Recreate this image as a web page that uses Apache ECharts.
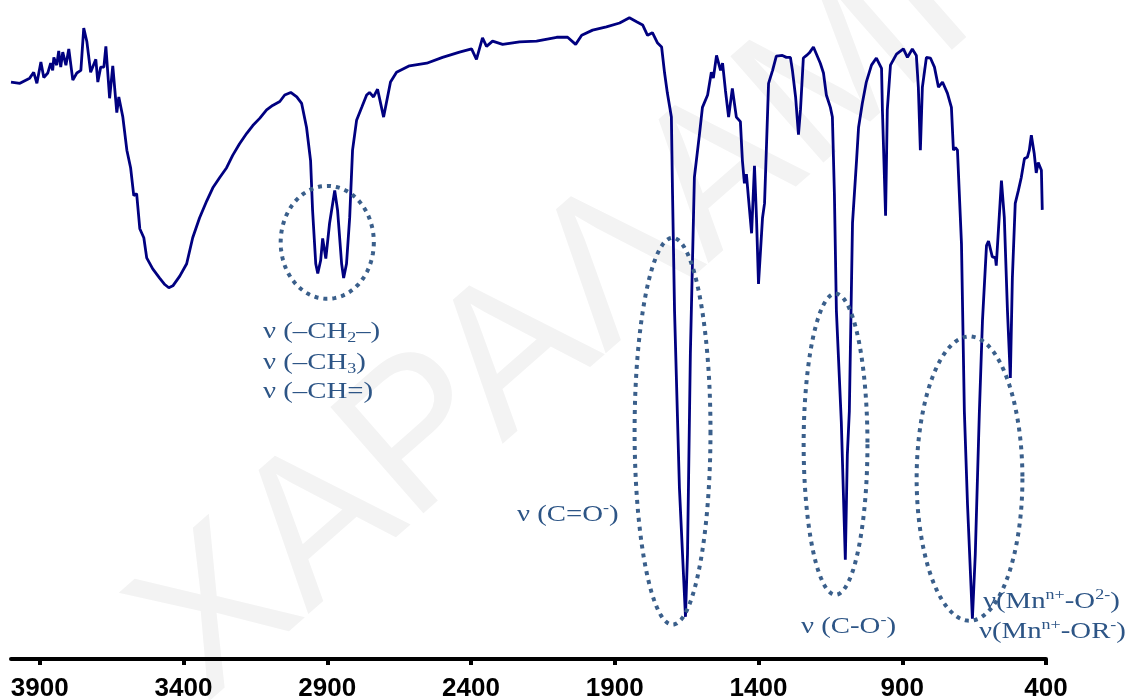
<!DOCTYPE html>
<html><head><meta charset="utf-8">
<script src="https://cdn.jsdelivr.net/npm/echarts@6/dist/echarts.min.js"></script>
<style>html,body{margin:0;padding:0;background:#fff}#c{width:1134px;height:700px}</style>
</head><body><div id="c"></div>
<script>
// IR spectrum: wavenumber (cm-1) and transmittance (arbitrary %, 0 = axis line)
const wavenumber = [4000,3969,3935,3921,3910,3896,3886,3872,3862,3855,
3851,3841,3834,3827,3820,3809,3799,3785,3771,3757,
3747,3736,3723,3705,3698,3688,3677,3670,3657,3646,
3632,3625,3611,3597,3584,3573,3563,3552,3538,3528,
3507,3483,3465,3451,3437,3413,3389,3368,3344,3319,
3298,3274,3250,3229,3205,3180,3159,3135,3111,3090,
3065,3048,3027,3006,2989,2972,2958,2951,2940,2933,
2923,2916,2905,2892,2874,2864,2850,2843,2833,2822,
2812,2798,2780,2763,2753,2739,2725,2704,2680,2659,
2614,2554,2499,2440,2398,2381,2360,2346,2325,2290,
2231,2172,2102,2064,2036,2015,1977,1929,1883,1849,
1824,1803,1786,1769,1751,1737,1727,1717,1703,1699,
1692,1675,1654,1647,1637,1623,1605,1595,1577,1564,
1557,1546,1532,1525,1515,1504,1491,1477,1463,1456,
1449,1442,1435,1424,1414,1407,1400,1386,1379,1372,
1365,1351,1338,1317,1303,1289,1282,1271,1261,1254,
1244,1233,1223,1209,1185,1174,1164,1150,1143,1136,
1129,1112,1098,1091,1084,1073,1059,1052,1039,1025,
1007,990,972,969,958,952,941,920,896,882,
865,851,844,837,830,816,802,788,774,760,
743,729,722,715,708,694,684,673,656,646,
632,621,607,600,587,576,573,555,545,534,
524,517,507,496,486,475,465,458,451,441,
434,427,416,413];
const transmittance = [88.9,88.7,89.5,90.4,88.7,92.0,89.6,90.3,91.8,90.7,
92.7,91.5,93.7,91.2,93.5,91.5,94.0,89.2,90.3,90.7,
97.2,95.1,90.4,92.4,88.9,91.2,91.2,94.4,86.4,91.4,
84.2,86.6,83.5,78.4,75.7,71.4,71.7,66.3,64.9,61.8,
60.1,58.7,57.7,57.2,57.5,59.0,60.9,64.9,68.0,70.6,
72.6,74.2,75.7,77.6,79.4,81.0,82.2,83.3,84.6,85.3,
85.9,86.9,87.3,86.6,85.6,81.9,76.8,69.1,60.9,59.4,
61.4,64.8,61.7,67.1,72.2,69.1,60.9,58.7,60.9,68.0,
78.4,83.0,85.0,86.9,87.3,86.6,87.8,83.5,88.9,90.4,
91.4,91.8,92.7,93.5,94.0,92.4,95.7,94.4,95.2,94.7,
95.1,95.2,95.8,95.8,94.7,96.1,96.9,97.4,98.0,98.8,
98.2,97.7,96.1,96.5,94.9,94.3,90.4,87.2,83.5,71.7,
53.6,26.3,6.5,16.1,47.0,74.2,81.0,85.0,86.9,90.4,
89.5,93.0,90.7,91.8,87.6,83.5,87.9,83.5,82.8,76.8,
73.3,74.7,71.1,65.6,76.0,68.0,57.8,68.0,70.2,79.4,
88.7,90.7,92.9,93.0,92.7,92.7,90.7,86.6,80.8,84.6,
92.6,93.0,93.4,94.3,91.8,90.3,86.9,85.0,83.5,71.7,
53.6,36.6,15.3,31.5,38.2,67.2,76.8,81.9,85.6,88.9,
91.5,92.6,91.0,84.6,68.3,84.6,91.5,93.2,94.0,92.7,
94.0,93.0,88.1,78.4,88.1,92.7,92.6,91.2,88.1,88.9,
87.2,85.0,78.4,78.8,78.4,64.0,38.2,23.8,6.2,16.1,
37.7,52.1,63.7,64.4,62.0,61.8,60.6,73.7,68.0,53.6,
43.3,58.7,70.2,72.2,74.2,77.1,77.3,78.4,80.7,77.9,
74.9,76.5,75.3,69.2];
const tickValues = [3900,3400,2900,2400,1900,1400,900,400];
// dotted annotation ellipses: centre (wavenumber, T) and half-sizes (cm-1, T)
const ellipseCentreW = [2900,1699,1132,666];
const ellipseCentreT = [64.2,35.1,33.1,27.8];
const ellipseHalfW = [162,132,111,184];
const ellipseHalfT = [8.7,29.8,23.2,21.9];
const watermarkText = 'ΧΑΡΑΛΑΜΠΟΣ';

const chart = echarts.init(document.getElementById('c'), null, {renderer:'canvas'});
const data = wavenumber.map((w,i)=>[w, transmittance[i]]);
chart.setOption({
  animation:false,
  grid:{left:11,right:88,top:10,bottom:41,containLabel:false,outerBoundsMode:'none'},
  xAxis:{type:'value',inverse:true,min:400,max:4000,
    axisLine:{show:true,lineStyle:{color:'#000',width:4}},
    axisTick:{show:true,customValues:tickValues,length:6,lineStyle:{color:'#000',width:4}},
    axisLabel:{show:true,customValues:tickValues,formatter:v=>String(v),fontFamily:'"Liberation Sans", Arial, sans-serif',fontWeight:'bold',fontSize:26,color:'#000',margin:17},
    splitLine:{show:false}},
  yAxis:{type:'value',min:0,max:100,show:false,splitLine:{show:false}},
  series:[{type:'line',data:data,showSymbol:false,symbol:'none',lineStyle:{color:'#000080',width:2.8},z:5,silent:true}]
});

const px = (w,t)=>chart.convertToPixel({gridIndex:0},[w,t]);
const graphics = [];
graphics.push({type:'text',x:168,y:662,rotation:0.72,z:0,silent:true,
  style:{text:watermarkText,fontSize:205,fontFamily:'"Liberation Sans", Arial, sans-serif',fill:'#f3f3f3',align:'left',verticalAlign:'middle'}});
const eColor = '#3a5f8b';
ellipseCentreW.forEach((cw,i)=>{
  const c = px(cw, ellipseCentreT[i]);
  const ex = px(cw-ellipseHalfW[i], ellipseCentreT[i]);
  const ey = px(cw, ellipseCentreT[i]+ellipseHalfT[i]);
  const rx = Math.abs(ex[0]-c[0]), ry = Math.abs(ey[1]-c[1]);
  const pts = [];
  for(let k=0;k<160;k++){const a=2*Math.PI*k/160; pts.push([c[0]+rx*Math.cos(a), c[1]+ry*Math.sin(a)]);}
  graphics.push({type:'polygon',z:20,silent:true,shape:{points:pts},
    style:{fill:'none',stroke:eColor,lineWidth:4,lineDash:[4,5]}});
});
const tColor = '#2d5586';
const serif = '"Liberation Serif", "Times New Roman", serif';
const rich = {
  n:{fontFamily:serif,fontSize:24,lineHeight:28,fill:tColor,color:tColor},
  s:{fontFamily:serif,fontSize:15,lineHeight:15,verticalAlign:'bottom',fill:tColor,color:tColor},
  p:{fontFamily:serif,fontSize:15,lineHeight:15,verticalAlign:'top',fill:tColor,color:tColor}
};
function label(x,y,text){
  graphics.push({type:'text',x:x,y:y,scaleX:1.2,z:30,silent:true,
    style:{text:text,rich:rich,fill:tColor,fontFamily:serif,fontSize:24,align:'left',verticalAlign:'middle'}});
}
label(263,332,'{n|ν (–CH}{s|2}{n|–)}');
label(263,363,'{n|ν (–CH}{s|3}{n|)}');
label(263,392,'{n|ν (–CH=)}');
label(517,515,'{n|ν (C=O}{p|-}{n|)}');
label(801,627,'{n|ν (C-O}{p|-}{n|)}');
label(983,602,'{n|ν(Mn}{p|n+}{n|-O}{p|2-}{n|)}');
label(979,632,'{n|ν(Mn}{p|n+}{n|-OR}{p|-}{n|)}');
chart.setOption({graphic:{elements:graphics}});
</script></body></html>
